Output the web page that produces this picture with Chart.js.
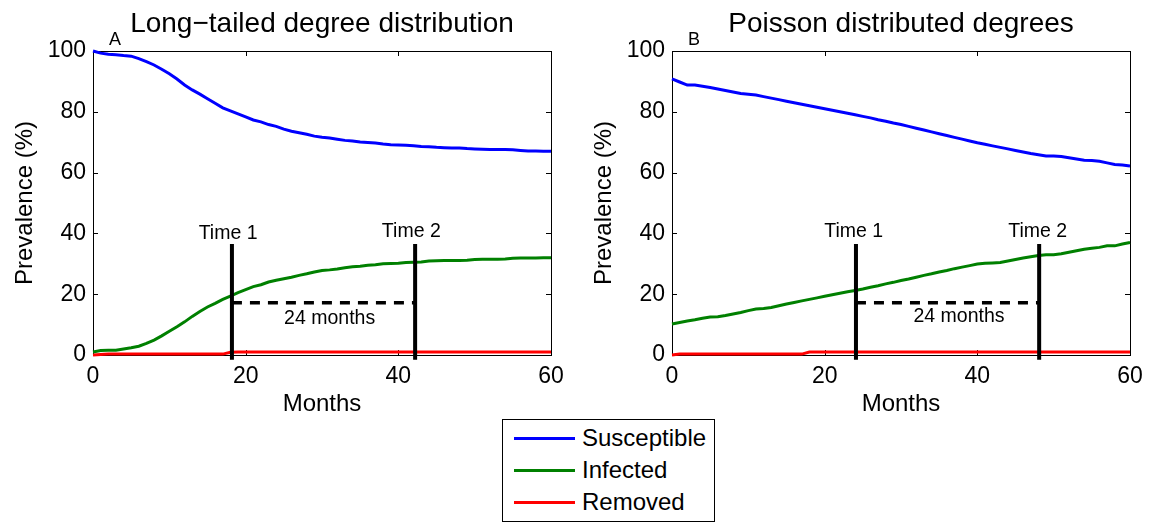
<!DOCTYPE html>
<html>
<head>
<meta charset="utf-8">
<title>Prevalence over time</title>
<script src="https://cdn.jsdelivr.net/npm/chart.js@4.4.0/dist/chart.umd.min.js"></script>
<style>
  html, body { margin: 0; padding: 0; background: #fff; }
  #wrap { position: relative; width: 1153px; height: 522px; overflow: hidden; font-family: 'Liberation Sans', Arial, sans-serif; }
  #leftChart { position: absolute; left: 0; top: 0; }
  #rightChart { position: absolute; left: 580px; top: 0; }
  #legend { position: absolute; left: 502px; top: 419px; width: 213px; height: 103px; box-sizing: border-box; border: 1px solid #000; background: #fff; padding-top: 2px; }
  #legend .row { height: 32px; display: flex; align-items: center; }
  #legend .swatch { display: inline-block; width: 61px; height: 3px; margin-left: 11px; margin-right: 7px; }
  #legend .label { font-size: 24px; color: #000; }
</style>
</head>
<body>
<div id="wrap">
  <canvas id="leftChart" width="580" height="420"></canvas>
  <canvas id="rightChart" width="573" height="420"></canvas>
  <div id="legend"></div>
</div>
<script>
// x values (months)
const months = [0,1,2,3,4,5,6,7,8,9,10,11,12,13,14,15,16,17,18,19,20,
  21,22,23,24,25,26,27,28,29,30,31,32,33,34,35,36,37,38,39,40,
  41,42,43,44,45,46,47,48,49,50,51,52,53,54,55,56,57,58,59,60];

const seriesNames = ['Susceptible', 'Infected', 'Removed'];
const seriesColors = ['#0000ff', '#008000', '#ff0000'];

// panel A: long-tailed degree distribution
const longSusceptible = [100,99.3,98.9,98.8,98.5,98.3,97.5,96.5,95.4,94,92.5,90.8,88.8,87.2,85.8,84.3,82.8,81.3,80.3,79.3,78.3,
  77.3,76.7,75.8,75.2,74.3,73.6,73.1,72.6,72.0,71.6,71.4,71.0,70.6,70.4,70.1,69.9,69.7,69.4,69.2,69.1,
  69.0,68.8,68.6,68.5,68.3,68.2,68.1,68.1,67.9,67.8,67.7,67.6,67.6,67.6,67.5,67.3,67.1,67.1,67.0,67.0];
const longInfected = [1.0,1.5,1.6,1.6,2.0,2.4,2.9,3.8,4.9,6.3,7.8,9.3,10.9,12.7,14.3,15.8,17.0,18.3,19.4,20.5,21.5,
  22.5,23.1,24.0,24.6,25.1,25.6,26.2,26.7,27.3,27.8,28.0,28.3,28.7,29.0,29.2,29.5,29.7,30.0,30.1,30.2,
  30.4,30.5,30.6,30.9,31.0,31.1,31.1,31.1,31.2,31.4,31.5,31.5,31.5,31.6,31.8,31.9,31.9,31.9,32.0,32.0];
const longRemoved = [0,0.2,0.3,0.3,0.3,0.3,0.3,0.3,0.3,0.3,0.3,0.3,0.3,0.3,0.3,0.3,0.3,0.3,0.9,1.0,1.0,
  1.0,1.0,1.0,1.0,1.0,1.0,1.0,1.0,1.0,1.0,1.0,1.0,1.0,1.0,1.0,1.0,1.0,1.0,1.0,1.0,
  1.0,1.0,1.0,1.0,1.0,1.0,1.0,1.0,1.0,1.0,1.0,1.0,1.0,1.0,1.0,1.0,1.0,1.0,1.0,1.0];

// panel B: Poisson distributed degrees
const poisSusceptible = [90.8,89.8,88.8,88.8,88.4,88.0,87.5,87.0,86.5,86.0,85.8,85.5,85.0,84.5,84.0,83.5,83.0,82.5,82.0,81.5,81.0,
  80.5,80.0,79.5,79.0,78.5,78.0,77.4,76.9,76.3,75.8,75.2,74.6,74.0,73.4,72.8,72.2,71.6,71.0,70.4,69.8,
  69.3,68.8,68.3,67.8,67.3,66.8,66.3,65.9,65.5,65.5,65.3,64.9,64.5,64.1,64.0,63.7,63.2,62.7,62.5,62.2];
const poisInfected = [10.2,10.7,11.2,11.6,12.1,12.5,12.6,13.0,13.5,14.0,14.6,15.1,15.3,15.6,16.2,16.8,17.3,17.8,18.3,18.8,19.3,
  19.8,20.3,20.8,21.2,21.7,22.3,22.8,23.4,23.9,24.5,25.0,25.6,26.2,26.7,27.3,27.8,28.4,28.9,29.4,29.9,
  30.2,30.3,30.4,30.9,31.4,31.9,32.3,32.7,33.0,33.0,33.3,33.8,34.3,34.8,35.1,35.4,35.9,35.9,36.5,37.0];
const poisRemoved = [0,0.3,0.3,0.3,0.3,0.3,0.3,0.3,0.3,0.3,0.3,0.3,0.3,0.3,0.3,0.3,0.3,0.3,1.0,1.0,1.0,
  1.0,1.0,1.0,1.0,1.0,1.0,1.0,1.0,1.0,1.0,1.0,1.0,1.0,1.0,1.0,1.0,1.0,1.0,1.0,1.0,
  1.0,1.0,1.0,1.0,1.0,1.0,1.0,1.0,1.0,1.0,1.0,1.0,1.0,1.0,1.0,1.0,1.0,1.0,1.0,1.0];

// "Time 1" / "Time 2" markers, 24 months apart
const longTimes = [18.2, 42.2];
const poisTimes = [24.1, 48.1];
const markerSpan = [36.5, -1.6];   // top / bottom of the vertical marks (in %)
const gapLevel = 17.2;             // height of the dashed 24 months line

function series(vals) {
  return months.map((m, i) => ({ x: m, y: vals[i] }));
}

// box round the axes + inward ticks, drawn under the curves
const framePlugin = {
  id: 'frame',
  beforeDatasetsDraw(chart) {
    const { ctx, chartArea: a, scales: { x, y } } = chart;
    ctx.save();
    ctx.strokeStyle = '#000';
    ctx.lineWidth = 1;
    ctx.strokeRect(a.left + 0.5, a.top + 0.5, a.right - a.left, a.bottom - a.top);
    ctx.beginPath();
    x.ticks.forEach(t => {
      const px = Math.round(x.getPixelForValue(t.value)) + 0.5;
      ctx.moveTo(px, a.bottom); ctx.lineTo(px, a.bottom - 5);
      ctx.moveTo(px, a.top); ctx.lineTo(px, a.top + 5);
    });
    y.ticks.forEach(t => {
      const py = Math.round(y.getPixelForValue(t.value)) + 0.5;
      ctx.moveTo(a.left, py); ctx.lineTo(a.left + 5, py);
      ctx.moveTo(a.right, py); ctx.lineTo(a.right - 5, py);
    });
    ctx.stroke();
    ctx.restore();
  },
  afterDraw(chart, args, opts) {
    const { ctx, chartArea: a, scales: { x, y } } = chart;
    ctx.save();
    ctx.fillStyle = '#000';
    ctx.textAlign = 'center';
    ctx.textBaseline = 'alphabetic';
    ctx.font = '28px "Liberation Sans", Arial, sans-serif';
    ctx.fillText(opts.title, (a.left + a.right) / 2, 32);
    ctx.font = '18px "Liberation Sans", Arial, sans-serif';
    ctx.fillText(opts.letter, a.left + 22, a.top - 6);
    ctx.font = '19.5px "Liberation Sans", Arial, sans-serif';
    opts.notes.forEach(n => {
      ctx.fillText(n.text, x.getPixelForValue(n.x), y.getPixelForValue(n.y));
    });
    ctx.restore();
  }
};

function makeChart(id, vals, times, opts) {
  const curves = vals.map((v, i) => ({
    label: seriesNames[i],
    data: series(v),
    borderColor: seriesColors[i],
    borderWidth: 3,
    pointRadius: 0,
    tension: 0,
    clip: 4,
    order: 2
  }));
  const marks = [
    { data: [{ x: times[0], y: markerSpan[0] }, { x: times[0], y: markerSpan[1] }], borderWidth: 4 },
    { data: [{ x: times[1], y: markerSpan[0] }, { x: times[1], y: markerSpan[1] }], borderWidth: 4 },
    { data: [{ x: times[0], y: gapLevel }, { x: times[1], y: gapLevel }], borderWidth: 3.5, borderDash: [10, 8] }
  ].map(d => Object.assign({ borderColor: '#000', pointRadius: 0, clip: false, order: 1 }, d));

  const axisFont = { family: '"Liberation Sans", Arial, sans-serif', size: 23 };
  const titleFont = { family: '"Liberation Sans", Arial, sans-serif', size: 24 };

  return new Chart(document.getElementById(id), {
    type: 'line',
    data: { datasets: curves.concat(marks) },
    options: {
      responsive: false,
      animation: false,
      events: [],
      layout: { padding: { top: 51, right: opts.padRight, left: 0, bottom: 0 } },
      plugins: {
        legend: { display: false },
        tooltip: { enabled: false },
        frame: { title: opts.title, letter: opts.letter, notes: opts.notes }
      },
      scales: {
        x: {
          type: 'linear', min: 0, max: 60,
          grid: { display: false, drawTicks: false },
          border: { display: false },
          ticks: { stepSize: 20, color: '#000', font: axisFont, padding: 8, maxRotation: 0 },
          title: { display: true, text: 'Months', color: '#000', font: titleFont, padding: { top: 0, bottom: 1 } },
          afterFit: s => { s.height = 65; }
        },
        y: {
          min: 0, max: 100,
          grid: { display: false, drawTicks: false },
          border: { display: false },
          ticks: { stepSize: 20, color: '#000', font: axisFont, padding: 7 },
          title: { display: true, text: 'Prevalence (%)', color: '#000', font: titleFont, padding: { top: opts.yTitlePad, bottom: 0 } },
          afterFit: s => { s.width = opts.yWidth; }
        }
      }
    },
    plugins: [framePlugin]
  });
}

makeChart('leftChart', [longSusceptible, longInfected, longRemoved], longTimes, {
  title: 'Long\u2212tailed degree distribution',
  letter: 'A',
  padRight: 29,
  yWidth: 93,
  yTitlePad: 11,
  notes: [
    { text: 'Time 1', x: 17.7, y: 38.2 },
    { text: 'Time 2', x: 41.7, y: 38.8 },
    { text: '24 months', x: 31.0, y: 10.2 }
  ]
});

makeChart('rightChart', [poisSusceptible, poisInfected, poisRemoved], poisTimes, {
  title: 'Poisson distributed degrees',
  letter: 'B',
  padRight: 23,
  yWidth: 92,
  yTitlePad: 10,
  notes: [
    { text: 'Time 1', x: 23.8, y: 38.8 },
    { text: 'Time 2', x: 47.9, y: 38.8 },
    { text: '24 months', x: 37.6, y: 10.9 }
  ]
});

// legend box
const legend = document.getElementById('legend');
seriesNames.forEach((name, i) => {
  const row = document.createElement('div');
  row.className = 'row';
  const sw = document.createElement('span');
  sw.className = 'swatch';
  sw.style.background = seriesColors[i];
  const lb = document.createElement('span');
  lb.className = 'label';
  lb.textContent = name;
  row.appendChild(sw);
  row.appendChild(lb);
  legend.appendChild(row);
});
</script>
</body>
</html>
